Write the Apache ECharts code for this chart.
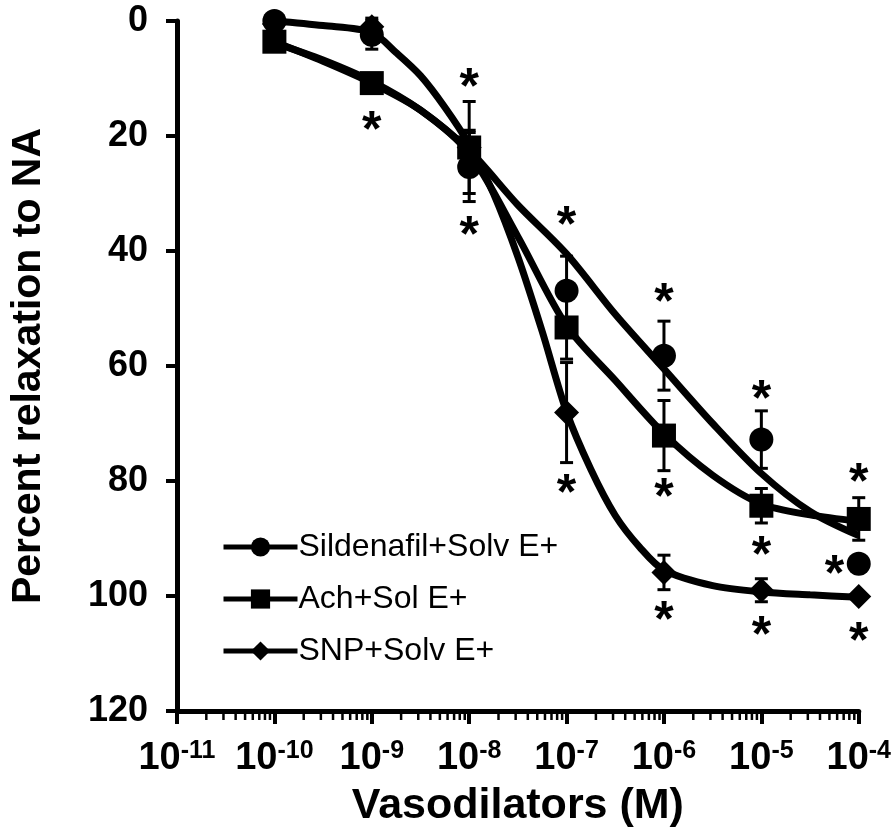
<!DOCTYPE html>
<html><head><meta charset="utf-8">
<script src="https://cdn.jsdelivr.net/npm/echarts@6/dist/echarts.min.js"></script>
<style>html,body{margin:0;padding:0;background:#fff}#c{width:894px;height:834px}</style>
</head><body><div id="c"></div>
<script>
// ---- data ----
const doseExp = [-10, -9, -8, -7, -6, -5, -4];           // log10 of molar concentration
const sildMean = [0, 2.4, 25.4, 46.9, 58.2, 72.8, 94.4];
const sildSem  = [0, 2.5, 6, 6, 6, 5, 0];
const achMean  = [3.6, 10.8, 22, 53.3, 72.1, 84.3, 86.6];
const achSem   = [0, 1.5, 8, 5.5, 6.1, 3, 3.7];
const snpMean  = [0.5, 1.0, 22, 68.1, 95.9, 99.0, 100.1];
const snpSem   = [0, 1.5, 3, 8.7, 3, 2, 0];

// fitted curves
const sildCurveExp = [-10, -9.5, -9, -8.5, -8, -7.5, -7, -6.5, -6, -5.5, -5, -4.5, -4];
const sildCurve    = [3.8, 6.8, 10.5, 15.5, 22.5, 32, 40.5, 51, 60.5, 70, 78.7, 85.3, 89.5];
const achCurveExp  = [-10, -9.5, -9, -8.5, -8, -7.5, -7, -6.5, -6, -5.5, -5, -4.5, -4];
const achCurve     = [3.6, 7, 10.8, 15.5, 23, 37.5, 53, 62.5, 71.8, 79, 84, 85.9, 87];
const snpCurveExp  = [-10, -9.5, -9, -8.75, -8.5, -8.25, -8, -7.75, -7.5, -7.25, -7, -6.75, -6.5, -6.25, -6, -5.5, -5, -4.5, -4];
const snpCurve     = [0, 0.8, 2, 5.5, 9.5, 15, 21.5, 30, 41, 54, 68, 78, 86, 91.5, 95.5, 98.2, 99.3, 99.8, 100.2];

// significance asterisks
const starExp = [-9, -8, -8, -7, -7, -6, -6, -6, -5, -5, -5, -4, -4.25, -4];
const starVal = [16.9, 9.4, 35.2, 33.4, 80, 46.8, 80.8, 102.2, 63.7, 90.9, 104.8, 78.2, 94.2, 105.7];

const names = ['Sildenafil+Solv E+', 'Ach+Sol E+', 'SNP+Solv E+'];
const xTickExp = [-11, -10, -9, -8, -7, -6, -5, -4];
const yTicks = [0, 20, 40, 60, 80, 100, 120];

// ---- helpers ----
const FONT = '"Liberation Sans", Arial, Helvetica, sans-serif';
const conc = e => Math.pow(10, e);
const minorTicks = [];
for (let n = xTickExp[0]; n < xTickExp[xTickExp.length - 1]; n++) {
  for (let k = 2; k <= 9; k++) minorTicks.push([k * conc(n), yTicks[yTicks.length - 1]]);
}

function curveSeries(name, exps, vals, sym) {
  return {
    name, type: 'line', data: exps.map((e, i) => [conc(e), vals[i]]),
    smooth: 0.3, showSymbol: false, symbol: sym, symbolSize: 14,
    lineStyle: { color: '#000', width: 7 }, itemStyle: { color: '#000', opacity: 1 },
    clip: false, z: 2, silent: true
  };
}
function markerSeries(name, means, sym, size) {
  return {
    name, type: 'scatter', data: doseExp.map((e, i) => [conc(e), means[i]]),
    symbol: sym, symbolSize: size, itemStyle: { color: '#000', opacity: 1 }, clip: false, z: 5, silent: true
  };
}
function errSeries(name, means, sems) {
  return {
    name, type: 'custom', silent: true, clip: false, z: 4,
    dimensions: ['x', 'y', 'e'], encode: { x: 0, y: 1 },
    data: doseExp.map((e, i) => [conc(e), means[i], sems[i]]),
    renderItem(params, api) {
      const x = api.value(0), m = api.value(1), e = api.value(2);
      if (!e) return null;
      const t = api.coord([x, m - e]), b = api.coord([x, m + e]);
      const hw = 6.5, st = { stroke: '#000', lineWidth: 3 };
      return { type: 'group', children: [
        { type: 'line', shape: { x1: t[0], y1: t[1], x2: b[0], y2: b[1] }, style: st },
        { type: 'line', shape: { x1: t[0] - hw, y1: t[1], x2: t[0] + hw, y2: t[1] }, style: st },
        { type: 'line', shape: { x1: b[0] - hw, y1: b[1], x2: b[0] + hw, y2: b[1] }, style: st }
      ]};
    }
  };
}

const chart = echarts.init(document.getElementById('c'), null, { renderer: 'canvas' });
chart.setOption({
  animation: false,
  backgroundColor: '#fff',
  grid: { left: 171, right: 33, top: 21, bottom: 123, containLabel: false },
  legend: {
    data: names, orient: 'vertical', left: 216, top: 526,
    itemWidth: 74, itemHeight: 24, itemGap: 20,
    lineStyle: { width: 5 },
    textStyle: { fontSize: 32, fontFamily: FONT, color: '#000', padding: [0, 0, 0, -4] },
    selectedMode: false
  },
  xAxis: {
    type: 'log', logBase: 10, min: conc(xTickExp[0]), max: conc(xTickExp[xTickExp.length - 1]), splitNumber: 7,
    name: 'Vasodilators (M)', nameLocation: 'middle', nameGap: 74,
    nameTextStyle: { fontSize: 43, fontWeight: 'bold', fontFamily: FONT, color: '#000' },
    axisLine: { onZero: false, lineStyle: { color: '#000', width: 5 } },
    axisTick: { show: true, length: 13, lineStyle: { color: '#000', width: 4 } },
    splitLine: { show: false },
    axisLabel: {
      interval: 0, margin: 28, color: '#000',
      formatter: v => '{a|10}{b|' + Math.round(Math.log10(v)) + '}',
      rich: {
        a: { fontSize: 38, fontWeight: 'bold', fontFamily: FONT, color: '#000', lineHeight: 40 },
        b: { fontSize: 25, fontWeight: 'bold', fontFamily: FONT, color: '#000', verticalAlign: 'top', lineHeight: 20 }
      }
    }
  },
  yAxis: {
    type: 'value', inverse: true, min: yTicks[0], max: yTicks[yTicks.length - 1], interval: 20,
    name: 'Percent relaxation to NA', nameLocation: 'middle', nameRotate: 90, nameGap: 128,
    nameTextStyle: { fontSize: 41, fontWeight: 'bold', fontFamily: FONT, color: '#000' },
    axisLine: { show: true, onZero: false, lineStyle: { color: '#000', width: 5 } },
    axisTick: { show: true, length: 11, lineStyle: { color: '#000', width: 4 } },
    splitLine: { show: false },
    axisLabel: { margin: 29, fontSize: 36, fontWeight: 'bold', fontFamily: FONT, color: '#000', padding: [0, 0, 8, 0] }
  },
  series: [
    {
      name: 'minor', type: 'custom', silent: true, clip: false, z: 1,
      encode: { x: 0, y: 1 }, data: minorTicks,
      renderItem(params, api) {
        const p = api.coord([api.value(0), api.value(1)]);
        return { type: 'line', shape: { x1: p[0], y1: p[1], x2: p[0], y2: p[1] + 9 }, style: { stroke: '#000', lineWidth: 2.5 } };
      }
    },
    curveSeries(names[0], sildCurveExp, sildCurve, 'circle'),
    curveSeries(names[1], achCurveExp, achCurve, 'rect'),
    curveSeries(names[2], snpCurveExp, snpCurve, 'diamond'),
    errSeries('sildErr', sildMean, sildSem),
    errSeries('achErr', achMean, achSem),
    errSeries('snpErr', snpMean, snpSem),
    markerSeries('sildPts', sildMean, 'circle', 24),
    markerSeries('achPts', achMean, 'rect', 24),
    markerSeries('snpPts', snpMean, 'diamond', 25),
    {
      name: 'stars', type: 'scatter', silent: true, clip: false, z: 6,
      data: starExp.map((e, i) => [conc(e), starVal[i]]),
      symbolSize: 1, itemStyle: { color: 'rgba(0,0,0,0)', opacity: 1 },
      label: { show: true, formatter: '*', position: 'inside', offset: [0, 14],
        fontSize: 50, fontWeight: 'bold', fontFamily: FONT, color: '#000' }
    }
  ]
});
</script></body></html>
